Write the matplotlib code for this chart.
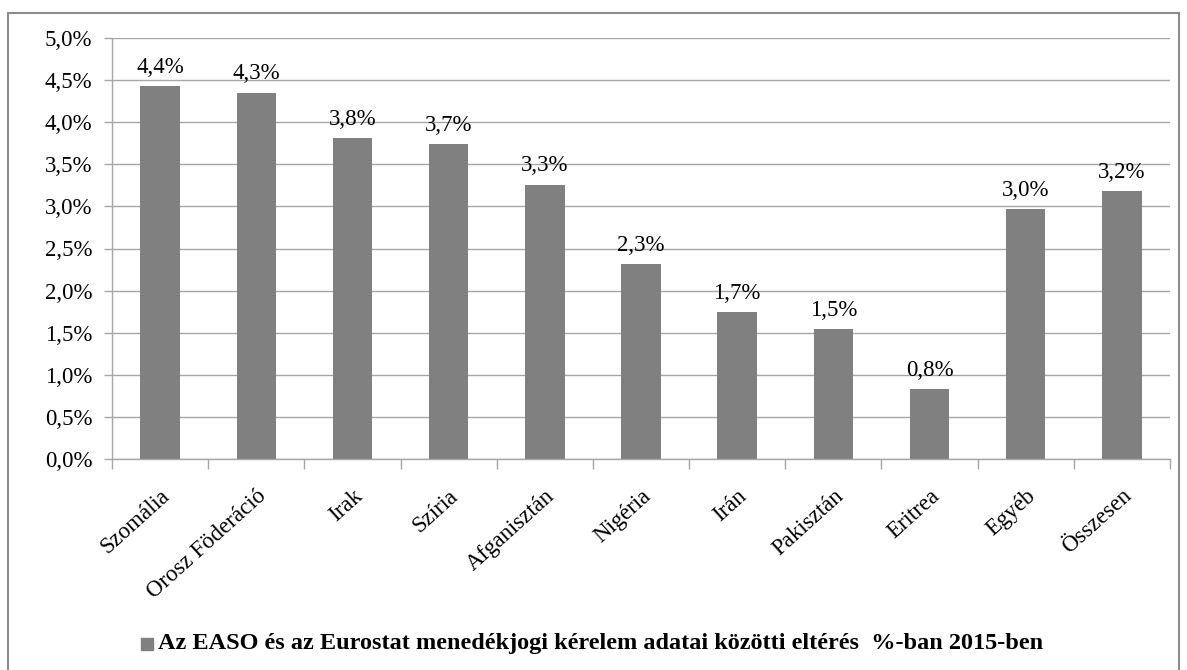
import matplotlib

matplotlib.use("Agg")
import matplotlib.pyplot as plt
from matplotlib.patches import Rectangle
from matplotlib.ticker import FuncFormatter, MultipleLocator

# Countries of origin and the EASO / Eurostat discrepancy (percent)
countries = [
    "Szomália", "Orosz Föderáció", "Irak", "Szíria", "Afganisztán", "Nigéria",
    "Irán", "Pakisztán", "Eritrea", "Egyéb", "Összesen",
]
diff_pct = [4.43, 4.35, 3.81, 3.74, 3.26, 2.31, 1.74, 1.54, 0.83, 2.97, 3.18]
legend_label = "Az EASO és az Eurostat menedékjogi kérelem adatai közötti eltérés  %-ban 2015-ben"

BAR_COLOR = "#808080"
GRID_COLOR = "#a6a6a6"
FS = 16.5

plt.rcParams["font.family"] = ["Liberation Serif", "DejaVu Serif"]

W, H = 1187, 670
fig = plt.figure(figsize=(W / 100, H / 100), dpi=100)
ax = fig.add_axes([112 / W, 1 - 459 / H, (1170 - 112) / W, (459 - 38) / H])

x = range(len(countries))
ax.bar(x, diff_pct, width=0.41, color=BAR_COLOR, zorder=2)

for xi, v in zip(x, diff_pct):
    ax.annotate(
        f"{v:.1f}%".replace(".", ","),
        (xi, v), xytext=(0, 6), textcoords="offset points",
        ha="center", va="bottom", fontsize=FS,
    )

ax.set_xlim(-0.5, len(countries) - 0.5)
ax.set_ylim(0, 5.0)
ax.yaxis.set_major_locator(MultipleLocator(0.5))
ax.yaxis.set_major_formatter(FuncFormatter(lambda v, p: f"{v:.1f}%".replace(".", ",")))
ax.grid(axis="y", color=GRID_COLOR, linewidth=1, zorder=0)

# Category ticks sit between the bars
ax.set_xticks([i - 0.5 for i in range(len(countries) + 1)])
ax.set_xticklabels([])
ax.set_xticks(list(x), minor=True)
ax.set_xticklabels(countries, minor=True, rotation=42, ha="right", va="top",
                   rotation_mode="anchor", fontsize=FS)
ax.tick_params(axis="x", which="minor", length=0, pad=19)
ax.tick_params(axis="x", which="major", length=7, color=GRID_COLOR, width=1)
ax.tick_params(axis="y", length=6, color=GRID_COLOR, width=1, labelsize=FS, pad=8)

for side in ("top", "right"):
    ax.spines[side].set_visible(False)
for side in ("left", "bottom"):
    ax.spines[side].set_color(GRID_COLOR)
    ax.spines[side].set_linewidth(1)

# Legend below the chart
fig.patches.append(Rectangle((141 / W, 1 - 650 / H), 12 / W, 12 / H,
                             transform=fig.transFigure, color=BAR_COLOR))
fig.text(158 / W, 1 - 643 / H, legend_label, fontsize=17.5, fontweight="bold",
         va="center", ha="left")

# Outer chart border
fig.patches.append(Rectangle((8 / W, -0.01), (1179 - 8) / W, 1 - 13 / H + 0.01,
                             transform=fig.transFigure, fill=False,
                             edgecolor="#8c8c8c", linewidth=1.5))

fig.savefig("out.png", dpi=100)
plt.close(fig)
